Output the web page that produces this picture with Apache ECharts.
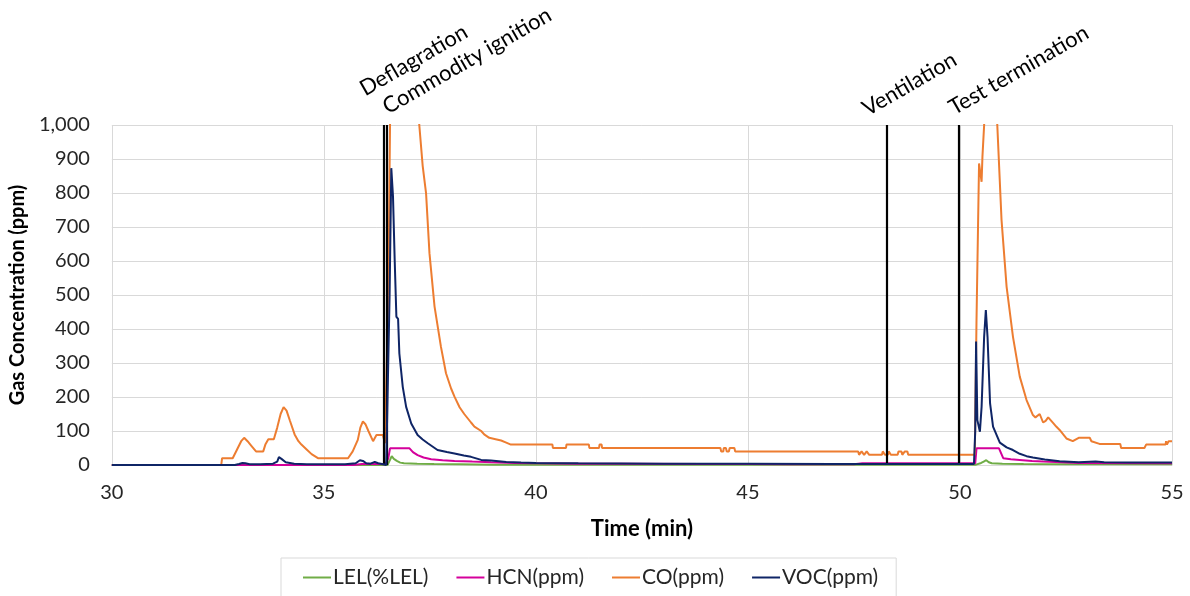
<!DOCTYPE html>
<html>
<head>
<meta charset="utf-8">
<script src="https://cdn.jsdelivr.net/npm/echarts@6/dist/echarts.min.js"></script>
<style>
html,body{margin:0;padding:0;background:#fff;}
#c{width:1190px;height:596px;}
</style>
</head>
<body>
<div id="c"></div>
<script>
// ---- Data (time in minutes, concentration) ----
const lelT = [30,36.5,36.56,36.6,36.65,36.72,36.8,36.89,37.2,37.6,38.2,39,50.38,50.42,50.5,50.56,50.62,50.68,50.75,51,51.5,52.5,55];
const lelV = [0,0,15,26,18,12,7,5,4,3,2,1,1,5,6,10,14,8,5,4,3,2,2];

const hcnT = [30,35.7,35.9,36.2,36.45,36.52,36.56,37.02,37.1,37.21,37.35,37.53,37.8,38.08,38.5,38.94,39.5,40,41,42,44,45,46,47.5,47.7,50.36,50.39,50.92,51.02,51.2,51.41,51.7,51.96,52.4,52.8,55];
const hcnV = [0,0,3,4,2,20,49,49,38,29,22,17,14,12,10,8,6,5,4,4,3,3,2,2,5,5,49,49,20,17,15,12,10,8,6,5];

const coT = [
  30,32.58,32.6,32.85,32.95,33.05,33.12,33.2,33.3,33.4,
  33.57,33.62,33.69,33.82,33.9,33.98,34.05,34.12,34.2,34.31,
  34.4,34.47,34.6,34.71,34.86,35.57,35.68,35.8,35.86,35.92,
  35.98,36.05,36.16,36.24,36.39,36.44,36.47,36.52,36.56,36.6,
  36.9,37.1,37.25,37.33,37.41,37.49,37.61,37.76,37.88,38.0,
  38.08,38.2,38.31,38.47,38.55,38.71,38.78,38.9,39.05,39.18,
  39.3,39.41,40.39,40.4,40.71,40.72,41.25,41.26,41.49,41.5,
  41.55,41.56,44.35,44.37,44.42,44.43,44.48,44.5,44.55,44.57,
  44.68,44.7,47.6,47.62,47.66,47.68,47.72,47.74,47.78,47.8,
  47.84,47.86,48.16,48.18,48.21,48.23,48.3,48.32,48.35,48.37,
  48.53,48.55,48.62,48.64,48.68,48.7,48.76,48.78,50.35,50.39,
  50.45,50.51,50.53,50.57,50.65,50.75,50.85,50.88,50.98,51.1,
  51.25,51.41,51.57,51.72,51.78,51.88,51.96,52.02,52.08,52.2,
  52.27,52.35,52.51,52.66,52.8,53.06,53.1,53.29,53.78,53.8,
  54.35,54.39,54.85,54.86,54.88,54.92,55];
const coV = [
  0,0,20,20,45,70,80,70,55,40,
  40,60,76,76,110,150,170,160,130,90,
  70,60,45,32,20,20,40,74,110,128,
  120,100,70,88,88,64,60,500,1000,1400,
  1800,1300,1000,880,799,623,466,348,270,225,
  201,170,150,125,113,100,90,80,76,72,
  66,60,60,50,50,60,60,50,50,60,
  60,50,50,40,40,50,50,40,40,50,
  50,40,40,30,30,40,40,30,30,40,
  40,30,30,40,40,30,30,40,40,30,
  30,40,40,30,30,40,40,30,30,426,
  887,833,907,1000,1300,1400,1100,1000,721,524,
  377,260,191,147,140,150,125,130,140,123,
  113,103,78,70,80,80,70,62,62,50,
  50,60,60,70,60,70,70];

const vocT = [30,32.9,33.0,33.08,33.15,33.25,33.5,33.8,33.9,33.94,34.0,34.1,34.3,34.6,35.5,35.75,35.85,35.92,36.0,36.1,36.2,36.28,36.4,36.47,36.51,36.55,36.59,36.63,36.67,36.71,36.75,36.78,36.86,36.94,37.06,37.21,37.33,37.45,37.68,37.9,38.08,38.3,38.47,38.71,38.94,39.3,39.65,40,41,43,45,47,50.33,50.36,50.38,50.41,50.47,50.51,50.57,50.61,50.65,50.71,50.78,50.94,51.1,51.25,51.41,51.57,51.72,52.0,52.35,52.8,53.2,53.4,54,55];
const vocV = [0,0,3,6,5,2,2,4,10,23,18,8,4,2,2,5,14,12,5,4,9,5,2,0,5,500,873,790,603,436,430,328,230,171,122,88,75,64,44,38,34,28,24,15,13,9,7,6,5,4,4,3,3,100,363,132,98,171,377,456,377,181,113,66,52,44,33,26,22,16,11,8,10,8,7,7];

const events = ['Deflagration','Commodity ignition','Ventilation','Test termination'];
const eventT = [36.42,36.49,48.27,49.98];

const seriesNames = ['LEL(%LEL)','HCN(ppm)','CO(ppm)','VOC(ppm)'];
const seriesColors = ['#70ad47','#d4009b','#ed7d31','#0f2566'];

function pairs(t, v){ return t.map((x,i)=>[x, v[i]]); }

const chart = echarts.init(document.getElementById('c'), null, {renderer:'canvas'});
const FONT = 'Lato';
const lineData = [pairs(lelT,lelV), pairs(hcnT,hcnV), pairs(coT,coV), pairs(vocT,vocV)];

const series = seriesNames.map((n,i)=>({
  name:n, type:'line', data:lineData[i], showSymbol:false, symbol:'none',
  lineStyle:{width:2, color:seriesColors[i]}, itemStyle:{color:seriesColors[i]},
  clip:true, z:2+i
}));
series.push({
  name:'events', type:'line', data:[], silent:true, z:10,
  markLine:{silent:true, symbol:['none','none'], label:{show:false},
    lineStyle:{color:'#000', width:2.2, type:'solid'},
    data: eventT.map(t=>({xAxis:t}))}
});

chart.setOption({
  animation:false,
  backgroundColor:'#fff',
  textStyle:{fontFamily:FONT},
  grid:{left:110, right:18, top:125, bottom:131},
  legend:{
    data:seriesNames, left:281, top:558,
    padding:[9,18,14,22], itemGap:28, itemWidth:28, itemHeight:2,
    icon:'rect', borderColor:'#d9d9d9', borderWidth:1,
    textStyle:{fontSize:21, color:'#262626', fontFamily:FONT, padding:[0,0,0,-3]}
  },
  xAxis:{
    type:'value', min:30, max:55, interval:5,
    name:'Time (min)', nameLocation:'middle', nameGap:53,
    nameTextStyle:{fontSize:22, fontWeight:'bold', color:'#000', fontFamily:FONT},
    axisLine:{lineStyle:{color:'#d9d9d9', width:1}},
    axisTick:{show:false},
    axisLabel:{fontSize:20, color:'#262626', margin:18, fontFamily:FONT},
    splitLine:{show:true, lineStyle:{color:'#d9d9d9', width:1}}
  },
  yAxis:{
    type:'value', min:0, max:1000, interval:100,
    name:'Gas Concentration (ppm)', nameLocation:'middle', nameGap:81,
    nameTextStyle:{fontSize:20, fontWeight:'bold', color:'#000', fontFamily:FONT},
    axisLine:{show:false}, axisTick:{show:false},
    axisLabel:{fontSize:20, color:'#262626', margin:22, fontFamily:FONT,
      formatter:v=>v.toLocaleString('en-US')},
    splitLine:{show:true, lineStyle:{color:'#d9d9d9', width:1}}
  },
  series:series
});

// event labels, rotated, placed relative to event lines
const labelDx = [-17, 3, -17, -3];
const labelY = [100, 118, 120, 119];
const graphics = events.map((txt,i)=>{
  const px = chart.convertToPixel({xAxisIndex:0}, eventT[i]);
  return {type:'text', x:px+labelDx[i], y:labelY[i], rotation:Math.PI/6,
    style:{text:txt, fill:'#000', font:'22px '+FONT, textAlign:'left', textVerticalAlign:'bottom'}};
});
chart.setOption({graphic:graphics});
</script>
</body>
</html>
